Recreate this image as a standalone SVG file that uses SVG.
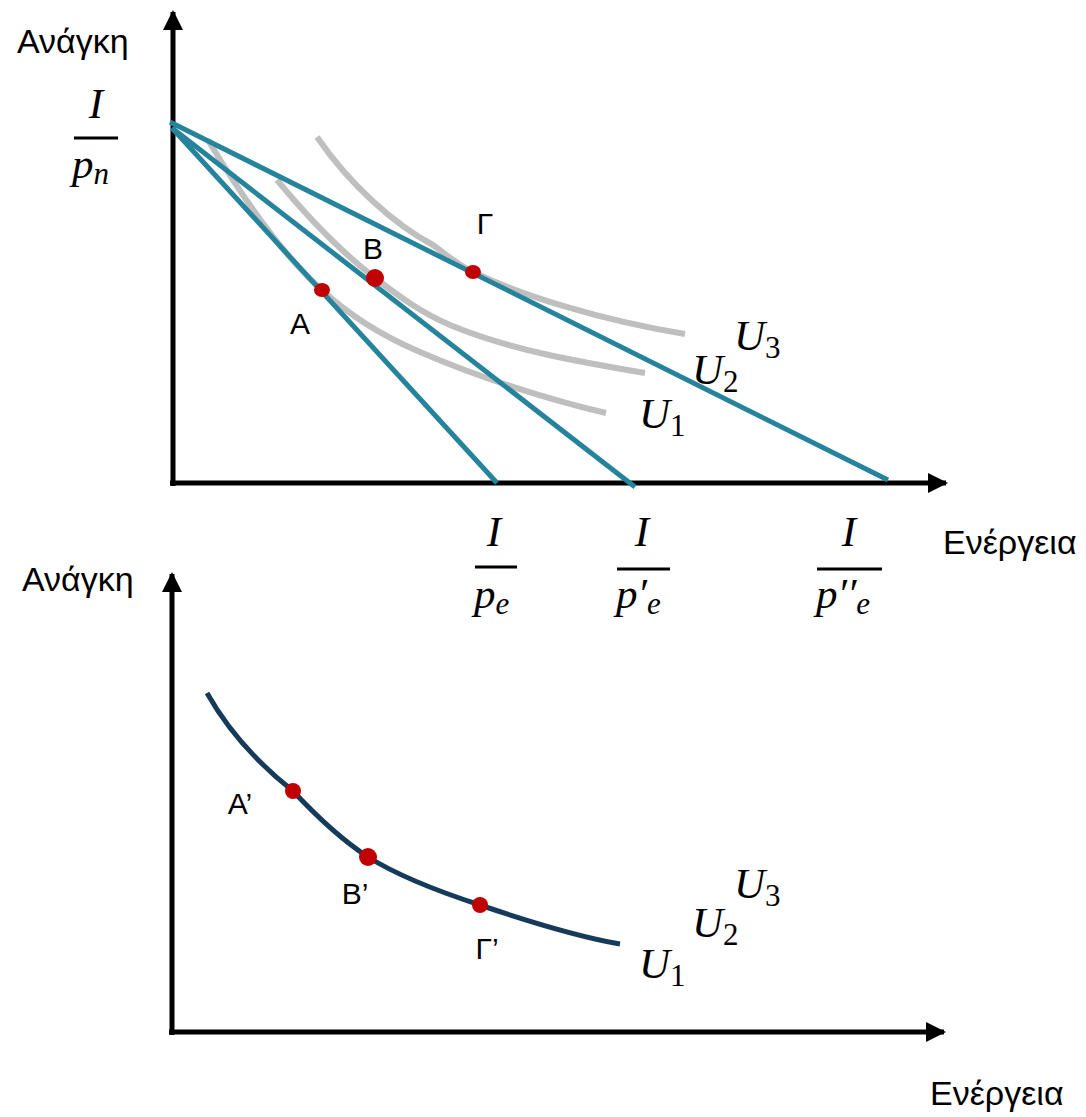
<svg xmlns="http://www.w3.org/2000/svg" width="1086" height="1117" viewBox="0 0 1086 1117">
<style>
.ax{stroke:#000;stroke-width:5;fill:none}
.bl{stroke:#25849C;stroke-width:5;fill:none}
.ic{stroke:#BFBFBF;stroke-width:6;fill:none;stroke-linecap:butt}
.nc{stroke:#163A59;stroke-width:5;fill:none}
.dot{fill:#C00000}
.t{font-family:'Liberation Sans','Noto Sans',sans-serif;font-size:34px;fill:#000}
.l{font-family:'Liberation Sans','Noto Sans',sans-serif;font-size:30px;fill:#000}
.m{font-family:'Liberation Serif','DejaVu Serif',serif;font-style:italic;font-size:43px;fill:#000}
.s{font-size:31px}
.d{font-size:31px;font-style:normal}
.bar{stroke:#000;stroke-width:3}
</style>
<defs>
<marker id="ah" viewBox="0 0 10 10" refX="9" refY="5" markerWidth="4" markerHeight="4" orient="auto" markerUnits="strokeWidth">
<path d="M0,0 L10,5 L0,10 z" fill="#000"/>
</marker>
</defs>
<g id="top-chart">
<g id="axes-top">
<line class="ax" x1="173" y1="486" x2="173" y2="12" marker-end="url(#ah)"/>
<line class="ax" x1="170" y1="483" x2="946" y2="483" marker-end="url(#ah)"/>
</g>
<g id="curves-top">
<path id="U1" class="ic" d="M208,140 C250,210 290,262 322,290 C350,316 380,335 420,352 C480,378 550,400 606,413"/>
<path id="U2" class="ic" d="M277,180 C310,220 345,255 375,278 C400,297 420,312 450,325 C510,350 580,362 645,373"/>
<path id="U3" class="ic" d="M317,137 C350,185 395,225 433,245 C450,258 460,266 473,272 C520,295 600,320 685,334"/>
</g>
<g id="connectors">
<line class="bl" x1="172" y1="128" x2="497" y2="483"/>
<line class="bl" x1="172" y1="128" x2="635" y2="487"/>
<line class="bl" x1="170" y1="122" x2="888" y2="480"/>
</g>
<g id="points-top">
<ellipse class="dot" cx="322" cy="290" rx="8" ry="7"/>
<circle class="dot" cx="375" cy="278" r="9"/>
<ellipse class="dot" cx="473" cy="272" rx="8" ry="7"/>
</g>
<g id="labels-top">
<text class="t" x="17" y="53">Ανάγκη</text>
<text class="t" x="943" y="554">Ενέργεια</text>
<text class="l" x="300" y="334" text-anchor="middle">Α</text>
<text class="l" x="373" y="259" text-anchor="middle">Β</text>
<text class="l" x="485" y="234" text-anchor="middle">Γ</text>
<text class="m" x="96" y="118" text-anchor="middle">I</text>
<line class="bar" x1="74" y1="138" x2="118" y2="138"/>
<text class="m" x="72" y="178">p<tspan class="s" dy="6">n</tspan></text>
<text class="m" x="734" y="350">U<tspan class="d" dy="8">3</tspan></text>
<text class="m" x="692" y="384">U<tspan class="d" dy="8">2</tspan></text>
<text class="m" x="639" y="428">U<tspan class="d" dy="8">1</tspan></text>
<text class="m" x="494" y="546" text-anchor="middle">I</text>
<line class="bar" x1="475" y1="567" x2="517" y2="567"/>
<text class="m" x="474" y="608">p<tspan class="s" dy="6">e</tspan></text>
<text class="m" x="642" y="546" text-anchor="middle">I</text>
<line class="bar" x1="617" y1="569" x2="670" y2="569"/>
<text class="m" x="616" y="608">p′<tspan class="s" dy="6">e</tspan></text>
<text class="m" x="849" y="546" text-anchor="middle">I</text>
<line class="bar" x1="817" y1="569" x2="882" y2="569"/>
<text class="m" x="816" y="608">p′′<tspan class="s" dy="6">e</tspan></text>
</g>
</g>
<g id="bottom-chart">
<g id="axes-bottom">
<line class="ax" x1="172" y1="1035" x2="172" y2="574" marker-end="url(#ah)"/>
<line class="ax" x1="169" y1="1032" x2="944" y2="1032" marker-end="url(#ah)"/>
</g>
<path id="U-curve" class="nc" d="M207,693 C225,725 250,757 293,791 C320,820 345,842 368,857 C400,877 440,892 480,905 C530,922 580,937 620,944"/>
<g id="points-bottom">
<circle class="dot" cx="293" cy="791" r="8"/>
<circle class="dot" cx="368" cy="857" r="9"/>
<circle class="dot" cx="480" cy="905" r="8"/>
</g>
<g id="labels-bottom">
<text class="t" x="22" y="591">Ανάγκη</text>
<text class="t" x="930" y="1105">Ενέργεια</text>
<text class="l" x="240" y="814" text-anchor="middle">Α’</text>
<text class="l" x="355" y="904" text-anchor="middle">Β’</text>
<text class="l" x="487" y="959" text-anchor="middle">Γ’</text>
<text class="m" x="734" y="898">U<tspan class="d" dy="8">3</tspan></text>
<text class="m" x="692" y="937">U<tspan class="d" dy="8">2</tspan></text>
<text class="m" x="639" y="978">U<tspan class="d" dy="8">1</tspan></text>
</g>
</g>
</svg>
